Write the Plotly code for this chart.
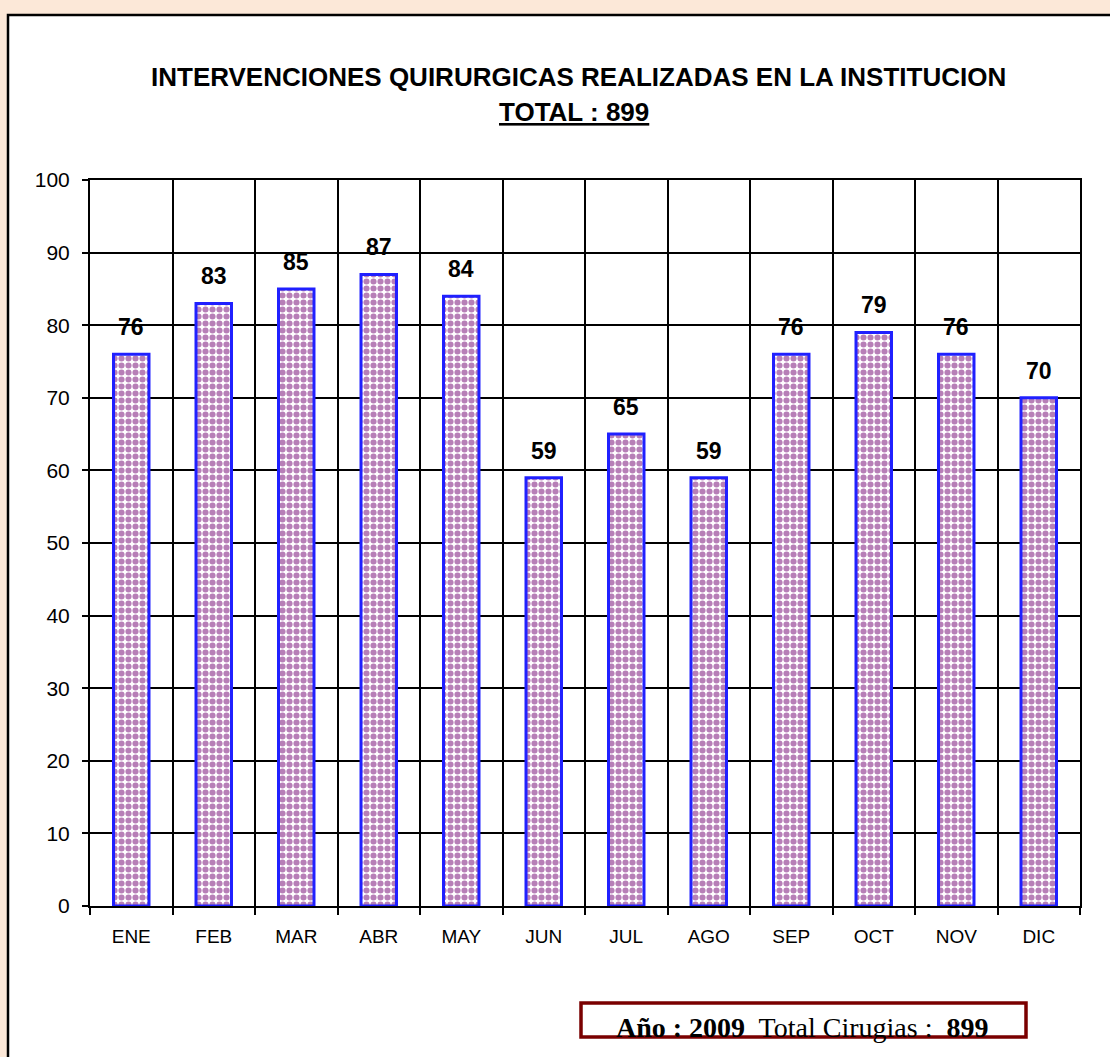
import plotly.graph_objects as go

months = ["ENE", "FEB", "MAR", "ABR", "MAY", "JUN", "JUL", "AGO", "SEP", "OCT", "NOV", "DIC"]
values = [76, 83, 85, 87, 84, 59, 65, 59, 76, 79, 76, 70]
title_line1 = "INTERVENCIONES QUIRURGICAS REALIZADAS EN LA INSTITUCION"
title_line2 = "TOTAL : 899"
box_text = "<b>Año : 2009</b>  Total Cirugias :  <b>899</b>"

W, H = 1110, 1057
L, R, T, B = 90, 30, 180, 151
pw, ph = W - L - R, H - T - B

def px(x):
    return (x - L) / pw

def py(y):
    return (H - B - y) / ph

SANS = "Liberation Sans, Arial"
SERIF = "Liberation Serif, Times New Roman"

fig = go.Figure()
fig.add_trace(go.Bar(
    x=months, y=values,
    marker=dict(
        color="white",
        line=dict(color="#2020ff", width=3),
        pattern=dict(shape=".", fgcolor="#700070", bgcolor="white", size=7, solidity=0.6),
    ),
    hoverinfo="skip",
))

annotations = []
for m, v in zip(months, values):
    annotations.append(dict(x=m, y=v, text=f"<b>{v}</b>", showarrow=False, yshift=27,
                            font=dict(family=SANS, size=23, color="black")))

annotations.append(dict(xref="paper", yref="paper", x=px(578), y=py(60), text=f"<b>{title_line1}</b>",
                        xanchor="center", showarrow=False, font=dict(family=SANS, size=26, color="black")))
annotations.append(dict(xref="paper", yref="paper", x=px(574), y=py(95), text=f"<b><u>{title_line2}</u></b>",
                        xanchor="center", showarrow=False, font=dict(family=SANS, size=26, color="black")))
annotations.append(dict(xref="paper", yref="paper", x=px(802), y=py(1027), text=box_text,
                        xanchor="center", yanchor="middle", showarrow=False,
                        font=dict(family=SERIF, size=28, color="black")))

shapes = [
    dict(type="rect", xref="paper", yref="paper", x0=px(8), x1=px(1130), y0=py(15), y1=py(1080),
         fillcolor="white", line=dict(color="black", width=2.5), layer="below"),
    dict(type="rect", xref="paper", yref="paper", x0=px(581), x1=px(1026), y0=py(1003), y1=py(1037),
         fillcolor="white", line=dict(color="#7a0000", width=3.5), layer="above"),
]

fig.update_layout(
    width=W, height=H,
    margin=dict(l=L, r=R, t=T, b=B, autoexpand=False),
    paper_bgcolor="#fce8d8",
    plot_bgcolor="white",
    bargap=0.57,
    showlegend=False,
    annotations=annotations,
    shapes=shapes,
    xaxis=dict(
        type="category", tickson="boundaries", showgrid=True, gridcolor="black", gridwidth=1.5,
        ticks="outside", ticklen=7, tickcolor="black", tickwidth=1.5,
        showline=True, linecolor="black", linewidth=2, mirror=True,
        tickfont=dict(family=SANS, size=19, color="black"),
        ticklabelstandoff=12,
    ),
    yaxis=dict(
        range=[0, 100], dtick=10, showgrid=True, gridcolor="black", gridwidth=1.5,
        ticks="outside", ticklen=6, tickcolor="black", tickwidth=1.5,
        showline=True, linecolor="black", linewidth=2, mirror=True, zeroline=False,
        tickfont=dict(family=SANS, size=21, color="black"),
        ticklabelstandoff=8,
    ),
)

fig.write_html(
    "out.html",
    config={"displayModeBar": False},
    post_script="document.body.style.margin='0';document.body.style.overflow='hidden';",
)
